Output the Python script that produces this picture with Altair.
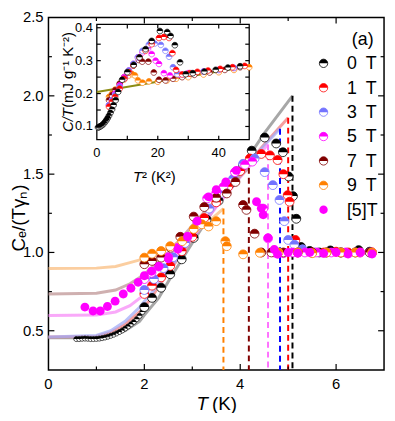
import altair as alt
import pandas as pd

W, H = 340, 357
IL, IR, IT, IB = 49, 203.4, 7, 123.7   # inset box inside plot (pixels)
FONT = "Liberation Sans"

FULL = "M-1,0A1,1,0,1,1,1,0A1,1,0,1,1,-1,0Z"
TOPH = "M-1,0A1,1,0,0,1,1,0Z"

SERIES = ["0 T", "1 T", "3 T", "5 T", "7 T", "9 T"]
COLORS = ["#000000", "#ff0000", "#7474ff", "#ff00ff", "#800000", "#ff8000"]
FIT_COLORS = ["#8a8a8a", "#f27d7d", "#a3acf7", "#f78cf7", "#bf9696", "#f9bd80"]
DASH_COLORS = ["#000000", "#ff0000", "#0000ff", "#ff70ff", "#800000", "#ff8000"]
LEGEND = SERIES + ["[5]T"]
SOLID_COLOR = "#ff00ff"

# ---------------- main panel data ----------------
T0 = [2.0, 2.16, 2.35, 2.54, 2.78, 3.03, 3.3, 3.55, 3.8, 4.06, 4.24, 4.51, 4.75, 4.89, 5.01, 5.1, 5.17, 5.27, 5.45, 5.65, 5.88, 6.1, 6.47, 6.7]
Y0 = [0.651, 0.71, 0.775, 0.861, 0.956, 1.093, 1.21, 1.33, 1.44, 1.556, 1.65, 1.734, 1.696, 1.64, 1.485, 1.36, 1.215, 1.035, 1.01, 1.0, 1.013, 1.0, 1.015, 1.005]
T0S = [0.58, 0.64, 0.7, 0.76, 0.82, 0.88, 0.94, 1.0, 1.06, 1.12, 1.18, 1.24, 1.3, 1.36, 1.42, 1.48, 1.54, 1.6, 1.66, 1.72, 1.78, 1.84, 1.9, 1.96]
Y0S = [0.447, 0.447, 0.449, 0.45, 0.449, 0.447, 0.447, 0.448, 0.45, 0.453, 0.457, 0.462, 0.468, 0.475, 0.483, 0.492, 0.502, 0.514, 0.527, 0.541, 0.556, 0.574, 0.595, 0.62]
T1 = [2.0, 2.16, 2.35, 2.54, 2.78, 3.0, 3.25, 3.5, 3.75, 4.0, 4.2, 4.44, 4.62, 4.78, 4.9, 4.99, 5.03, 5.15, 5.3, 5.5, 5.75, 6.0, 6.25, 6.5, 6.75]
Y1 = [0.735, 0.788, 0.841, 0.914, 1.008, 1.1, 1.22, 1.32, 1.42, 1.52, 1.6, 1.629, 1.62, 1.59, 1.5, 1.366, 1.324, 1.08, 1.01, 1.0, 1.0, 1.005, 1.0, 1.0, 1.0]
T3 = [2.0, 2.2, 2.4, 2.6, 2.85, 3.1, 3.35, 3.6, 3.85, 4.06, 4.3, 4.51, 4.68, 4.82, 4.92, 5.0, 5.13, 5.3, 5.55, 5.8, 6.1, 6.4, 6.7]
Y3 = [0.76, 0.83, 0.9, 0.97, 1.06, 1.17, 1.28, 1.38, 1.47, 1.566, 1.6, 1.513, 1.43, 1.335, 1.2, 1.08, 1.05, 1.02, 1.0, 1.0, 1.0, 1.0, 1.0]
T5 = [2.0, 2.15, 2.3, 2.5, 2.7, 2.9, 3.1, 3.31, 3.5, 3.65, 3.89, 4.1, 4.25, 4.48, 4.58, 4.7, 4.9, 5.1, 5.35, 5.6, 5.9, 6.2, 6.5, 6.75]
Y5 = [0.83, 0.87, 0.91, 0.97, 1.03, 1.1, 1.2, 1.345, 1.38, 1.419, 1.513, 1.56, 1.58, 1.28, 1.09, 1.0, 0.995, 1.0, 1.0, 1.0, 1.0, 1.0, 1.0, 1.0]
T7 = [2.0, 2.16, 2.35, 2.55, 2.75, 3.03, 3.25, 3.5, 3.72, 3.9, 4.06, 4.13, 4.3, 4.44, 4.65, 4.9, 5.2, 5.5, 5.8, 6.1, 6.4, 6.7]
Y7 = [0.925, 0.946, 0.967, 1.03, 1.1, 1.229, 1.29, 1.35, 1.377, 1.45, 1.303, 1.272, 1.12, 1.0, 1.0, 1.0, 1.0, 1.0, 1.0, 1.0, 1.0, 1.0]
T9 = [2.0, 2.16, 2.35, 2.54, 2.79, 3.03, 3.2, 3.34, 3.5, 3.69, 3.72, 4.06, 4.41, 4.8, 5.2, 5.5, 5.8, 6.1, 6.4, 6.75]
Y9 = [0.967, 0.992, 1.009, 1.04, 1.072, 1.15, 1.18, 1.166, 1.2, 1.072, 1.04, 0.988, 0.998, 1.0, 1.0, 0.995, 1.0, 1.0, 1.0, 1.0]
T5B = [0.76, 0.93, 1.08, 1.23, 1.39, 1.56, 1.72, 1.87, 2.0, 2.15, 2.3, 2.5, 2.7, 2.9, 3.1, 3.34, 3.5, 3.7, 3.92, 4.34, 4.44, 4.48, 4.58, 4.71, 4.78, 5.0, 5.2, 5.45, 5.74, 6.0, 6.25, 6.5, 6.75]
Y5B = [0.651, 0.626, 0.626, 0.655, 0.689, 0.735, 0.771, 0.809, 0.851, 0.88, 0.91, 0.96, 1.02, 1.1, 1.2, 1.355, 1.4, 1.45, 1.524, 1.324, 1.282, 1.24, 1.093, 1.019, 0.988, 1.0, 0.995, 1.0, 0.994, 1.0, 0.99, 1.0, 0.99]

PTS_T = [T0, T1, T3, T5, T7, T9]
PTS_Y = [Y0, Y1, Y3, Y5, Y7, Y9]

# fit curves
FIT_T = [
    [0, 1.0, 1.3, 1.6, 1.9, 2.0, 2.3, 2.55, 3.0, 3.5, 4.0, 4.5, 5.09],
    [0, 1.0, 1.3, 1.6, 1.9, 2.1, 2.4, 2.8, 3.2, 3.6, 4.0, 4.5, 5.0],
    [0, 1.0, 1.3, 1.6, 1.9, 2.2, 2.6, 3.0, 3.5, 4.0, 4.4, 4.83],
    [0, 1.0, 1.4, 1.7, 2.0, 2.3, 2.7, 3.1, 3.5, 4.0, 4.58],
    [0, 1.0, 1.4, 1.7, 2.0, 2.4, 2.8, 3.2, 3.6, 4.18],
    [0, 1.0, 1.4, 1.7, 2.0, 2.4, 2.8, 3.2, 3.65],
]
FIT_Y = [
    [0.455, 0.455, 0.465, 0.5, 0.56, 0.6, 0.71, 0.84, 1.06, 1.3, 1.53, 1.76, 2.0],
    [0.46, 0.465, 0.49, 0.54, 0.62, 0.69, 0.83, 1.0, 1.18, 1.35, 1.51, 1.69, 1.86],
    [0.46, 0.47, 0.5, 0.56, 0.65, 0.76, 0.92, 1.1, 1.3, 1.5, 1.65, 1.79],
    [0.598, 0.6, 0.62, 0.66, 0.73, 0.83, 0.98, 1.13, 1.29, 1.48, 1.69],
    [0.735, 0.74, 0.76, 0.8, 0.86, 0.97, 1.1, 1.24, 1.37, 1.54],
    [0.897, 0.9, 0.91, 0.935, 0.96, 1.01, 1.08, 1.16, 1.28],
]
TC = [5.09, 5.0, 4.83, 4.58, 4.18, 3.65]
TC_TOP = [2.0, 1.86, 1.79, 1.69, 1.54, 1.28]
Y_MIN, Y_MAX = 0.25, 2.5

# ---------------- inset data ----------------
I_T2 = [
    [0.4, 0.7, 1.0, 1.3, 1.6, 2.0, 2.4, 2.8, 3.2, 3.6, 4.0, 4.5, 5.0, 5.5, 6.2, 7.0, 8.3, 10.0, 12.1, 14.0, 16.0, 18.0, 20.7, 23.1, 24.2, 25.6, 27.3, 29.2, 31.5, 35.3, 39.0, 43.0, 47.0],
    [4.0, 5.0, 6.0, 7.5, 9.0, 10.5, 12.0, 14.0, 16.0, 18.0, 20.4, 22.0, 23.7, 24.8, 26.0, 28.0, 30.5, 33.0, 36.5, 40.5, 44.5, 48.5],
    [4.0, 5.0, 6.0, 7.5, 9.0, 10.5, 12.0, 13.5, 15.0, 17.1, 19.0, 21.0, 22.5, 23.7, 25.0, 26.4, 28.5, 31.0, 35.0, 40.0, 45.0],
    [4.0, 5.0, 6.0, 7.5, 9.0, 10.5, 12.0, 13.5, 15.0, 16.8, 18.0, 19.3, 20.4, 22.0, 24.0, 27.0, 30.0, 35.0, 40.0, 45.0],
    [4.0, 5.0, 6.0, 7.5, 9.0, 10.5, 12.0, 13.8, 14.9, 16.9, 18.7, 20.4, 22.5, 25.0, 28.0, 32.0, 37.0, 42.0, 47.0],
    [4.0, 5.0, 6.0, 7.5, 9.0, 10.5, 11.6, 12.5, 13.5, 15.0, 17.1, 20.0, 23.0, 26.0, 30.0, 35.0, 40.0, 45.0, 50.0],
]
I_CT = [
    [0.097, 0.098, 0.1, 0.101, 0.103, 0.106, 0.11, 0.115, 0.12, 0.126, 0.133, 0.142, 0.152, 0.165, 0.18, 0.205, 0.242, 0.265, 0.287, 0.31, 0.335, 0.36, 0.39, 0.387, 0.375, 0.347, 0.295, 0.259, 0.262, 0.267, 0.272, 0.279, 0.283],
    [0.16, 0.175, 0.19, 0.215, 0.245, 0.265, 0.285, 0.31, 0.33, 0.35, 0.369, 0.372, 0.369, 0.323, 0.272, 0.258, 0.262, 0.266, 0.27, 0.275, 0.28, 0.284],
    [0.165, 0.18, 0.195, 0.22, 0.245, 0.27, 0.29, 0.31, 0.33, 0.349, 0.352, 0.348, 0.33, 0.312, 0.28, 0.259, 0.258, 0.262, 0.267, 0.272, 0.278],
    [0.165, 0.18, 0.2, 0.225, 0.25, 0.27, 0.29, 0.31, 0.325, 0.337, 0.32, 0.3, 0.29, 0.262, 0.255, 0.258, 0.262, 0.267, 0.272, 0.278],
    [0.18, 0.195, 0.21, 0.23, 0.25, 0.268, 0.285, 0.302, 0.297, 0.297, 0.264, 0.242, 0.24, 0.245, 0.25, 0.257, 0.264, 0.272, 0.28],
    [0.19, 0.2, 0.212, 0.228, 0.243, 0.255, 0.259, 0.255, 0.24, 0.233, 0.237, 0.236, 0.24, 0.245, 0.25, 0.258, 0.265, 0.272, 0.28],
]
LINE_T2 = [0, 50]
LINE_CT = [0.205, 0.283]

# tick values and labels
MX_MAJ, MX_MIN = [2, 4, 6], [1, 3, 5]
MY_MAJ, MY_MIN = [0.5, 1.0, 1.5, 2.0], [0.75, 1.25, 1.75, 2.25]
MX_LAB_V, MX_LAB = [0, 2, 4, 6], ["0", "2", "4", "6"]
MY_LAB_V, MY_LAB = [0.5, 1.0, 1.5, 2.0, 2.5], ["0.5", "1.0", "1.5", "2.0", "2.5"]
IX_T = [10, 20, 30, 40]
IY_T = [0.1, 0.15, 0.2, 0.25, 0.3, 0.35, 0.4]
IX_LAB_V, IX_LAB = [0, 20, 40], ["0", "20", "40"]
IY_LAB_V, IY_LAB = [0.1, 0.2, 0.3, 0.4], ["0.1", "0.2", "0.3", "0.4"]

# ---------------- scales ----------------
MX = alt.Scale(domain=[0, 7], nice=False, zero=False)
MY = alt.Scale(domain=[Y_MIN, Y_MAX], nice=False, zero=False)
IXS = alt.Scale(domain=[0, 50], range=[IL, IR], nice=False, zero=False)
IYS = alt.Scale(domain=[0.06, 0.41], range=[IB, IT], nice=False, zero=False)


def X(f, sc):
    return alt.X(f"{f}:Q", scale=sc, axis=None)


def Y(f, sc):
    return alt.Y(f"{f}:Q", scale=sc, axis=None)


def half_points(df, xf, yf, sx, sy, color, size, sw=0.8):
    white = alt.Chart(df).mark_point(shape=FULL, filled=True, fill="white", stroke=color,
                                     strokeWidth=sw, size=size, opacity=1).encode(
        x=X(xf, sx), y=Y(yf, sy))
    top = alt.Chart(df).mark_point(shape=TOPH, filled=True, fill=color, strokeWidth=0,
                                   size=size, opacity=1).encode(x=X(xf, sx), y=Y(yf, sy))
    return [white, top]


def tick_layers(xv, yv, sx, sy, x0, x1, y0, y1, size, sw=1.2):
    dx = pd.DataFrame({"v": xv})
    dy = pd.DataFrame({"v": yv})
    r = dict(color="black", strokeWidth=sw)
    return [
        alt.Chart(dx).mark_rule(**r).encode(x=X("v", sx), y=alt.value(y1), y2=alt.value(y1 - size)),
        alt.Chart(dx).mark_rule(**r).encode(x=X("v", sx), y=alt.value(y0), y2=alt.value(y0 + size)),
        alt.Chart(dy).mark_rule(**r).encode(y=Y("v", sy), x=alt.value(x0), x2=alt.value(x0 + size)),
        alt.Chart(dy).mark_rule(**r).encode(y=Y("v", sy), x=alt.value(x1), x2=alt.value(x1 - size)),
    ]


def x_labels(vals, labs, sx, ypix, size):
    df = pd.DataFrame({"v": vals, "lab": labs})
    return alt.Chart(df).mark_text(font=FONT, fontSize=size, color="black", align="center",
                                   baseline="top").encode(x=X("v", sx), y=alt.value(ypix), text="lab:N")


def y_labels(vals, labs, sy, xpix, size):
    df = pd.DataFrame({"v": vals, "lab": labs})
    return alt.Chart(df).mark_text(font=FONT, fontSize=size, color="black", align="right",
                                   baseline="middle").encode(y=Y("v", sy), x=alt.value(xpix), text="lab:N")


def label(txt, x, y, **kw):
    props = dict(font=FONT, color="black")
    props.update(kw)
    return alt.Chart(pd.DataFrame({"s": [txt]})).mark_text(**props).encode(
        text="s:N", x=alt.value(x), y=alt.value(y))


# ---------------- main panel ----------------
main_layers = []
for i in range(6):
    df = pd.DataFrame({"T": FIT_T[i], "Y": FIT_Y[i]})
    main_layers.append(alt.Chart(df).mark_line(color=FIT_COLORS[i], strokeWidth=3, opacity=0.75)
                       .encode(x=X("T", MX), y=Y("Y", MY)))
for i in range(6):
    df = pd.DataFrame({"T": [TC[i]], "top": [TC_TOP[i]], "bot": [Y_MIN]})
    main_layers.append(alt.Chart(df).mark_rule(color=DASH_COLORS[i], strokeDash=[6, 4], strokeWidth=2)
                       .encode(x=X("T", MX), y=Y("top", MY), y2="bot:Q"))

main_layers += half_points(pd.DataFrame({"T": T0S, "Y": Y0S}), "T", "Y", MX, MY, "#000000", 26, 0.7)
for i in range(6):
    df = pd.DataFrame({"T": PTS_T[i], "Y": PTS_Y[i]})
    main_layers += half_points(df, "T", "Y", MX, MY, COLORS[i], 81)
main_layers.append(alt.Chart(pd.DataFrame({"T": T5B, "Y": Y5B})).mark_point(
    shape=FULL, filled=True, fill=SOLID_COLOR, size=81, opacity=1).encode(x=X("T", MX), y=Y("Y", MY)))

main_layers += tick_layers(MX_MAJ, MY_MAJ, MX, MY, 0, W, 0, H, 6)
main_layers += tick_layers(MX_MIN, MY_MIN, MX, MY, 0, W, 0, H, 3.5)
main_layers.append(x_labels(MX_LAB_V, MX_LAB, MX, H + 7, 15))
main_layers.append(y_labels(MY_LAB_V, MY_LAB, MY, -5, 15))

main_layers.append(label("T", 150, 398, fontSize=19, fontStyle="italic", align="left", baseline="alphabetic"))
main_layers.append(label("(K)", 165.7, 398, fontSize=19, align="left", baseline="alphabetic"))
main_layers.append(label("Cₑ/(Tγₙ)", -29.5, 203, fontSize=19, angle=270, align="center", baseline="middle"))
main_layers.append(label("(a)", 307.4, 23, fontSize=18, align="left", baseline="middle"))

main = alt.layer(*main_layers)

# ---------------- inset ----------------
inset_layers = []
frame = pd.DataFrame({"x0": [0], "x1": [50], "y0": [0.06], "y1": [0.41]})
inset_layers.append(alt.Chart(frame).mark_rect(fill="white", stroke="black", strokeWidth=1.3).encode(
    x=X("x0", IXS), x2="x1:Q", y=Y("y0", IYS), y2="y1:Q"))
inset_layers.append(alt.Chart(pd.DataFrame({"t2": LINE_T2, "ct": LINE_CT})).mark_line(
    color="#8c8c14", strokeWidth=2).encode(x=X("t2", IXS), y=Y("ct", IYS)))
for i in [5, 4, 3, 2, 1, 0]:
    df = pd.DataFrame({"t2": I_T2[i], "ct": I_CT[i]})
    inset_layers += half_points(df, "t2", "ct", IXS, IYS, COLORS[i], 34, 0.7)
inset_layers += tick_layers(IX_T, IY_T, IXS, IYS, IL, IR, IT, IB, 4)
inset_layers.append(x_labels(IX_LAB_V, IX_LAB, IXS, IB + 8, 13))
inset_layers.append(y_labels(IY_LAB_V, IY_LAB, IYS, IL - 4, 13))
inset_layers.append(label("C/T", 19.7, 116, fontSize=15, fontStyle="italic", angle=270,
                          align="left", baseline="middle"))
inset_layers.append(label("(mJ g⁻¹ K⁻²)", 19.7, 91.5, fontSize=15, angle=270,
                          align="left", baseline="middle"))
inset_layers.append(label("T", 85.7, 167, fontSize=15, fontStyle="italic", align="left", baseline="alphabetic"))
inset_layers.append(label("² (K²)", 94.7, 167, fontSize=15, align="left", baseline="alphabetic"))
inset = alt.layer(*inset_layers)

# ---------------- legend ----------------
LY = alt.Scale(domain=LEGEND, range=[46.4, 194.7], padding=0)
leg_half = pd.DataFrame({"lab": SERIES})
leg_solid = pd.DataFrame({"lab": ["[5]T"]})
leg_all = pd.DataFrame({"lab": LEGEND, "disp": [s.replace(" ", "\u2002") for s in LEGEND]})
cscale = alt.Scale(domain=SERIES, range=COLORS)
leg_layers = [
    alt.Chart(leg_half).mark_point(shape=FULL, filled=True, fill="white", strokeWidth=0.8, size=72, opacity=1)
    .encode(x=alt.value(278.7), y=alt.Y("lab:N", scale=LY, axis=None),
            stroke=alt.Stroke("lab:N", scale=cscale, legend=None)),
    alt.Chart(leg_half).mark_point(shape=TOPH, filled=True, strokeWidth=0, size=72, opacity=1)
    .encode(x=alt.value(278.7), y=alt.Y("lab:N", scale=LY, axis=None),
            fill=alt.Fill("lab:N", scale=cscale, legend=None)),
    alt.Chart(leg_solid).mark_point(shape=FULL, filled=True, fill=SOLID_COLOR, size=72, opacity=1)
    .encode(x=alt.value(278.7), y=alt.Y("lab:N", scale=LY, axis=None)),
    alt.Chart(leg_all).mark_text(font=FONT, fontSize=18, align="left", baseline="middle", dy=1, color="black")
    .encode(x=alt.value(302.4), y=alt.Y("lab:N", scale=LY, axis=None), text="disp:N"),
]
legend = alt.layer(*leg_layers)

chart = alt.layer(main, inset, legend).resolve_scale(
    x="independent", y="independent"
).properties(
    width=W, height=H,
    padding={"left": 41, "top": 7, "right": 3, "bottom": 41},
    autosize=alt.AutoSizeParams(type="none"),
).configure_view(stroke="black", strokeWidth=1.5)

chart.save("out.html", embed_options={"renderer": "svg", "actions": False})
